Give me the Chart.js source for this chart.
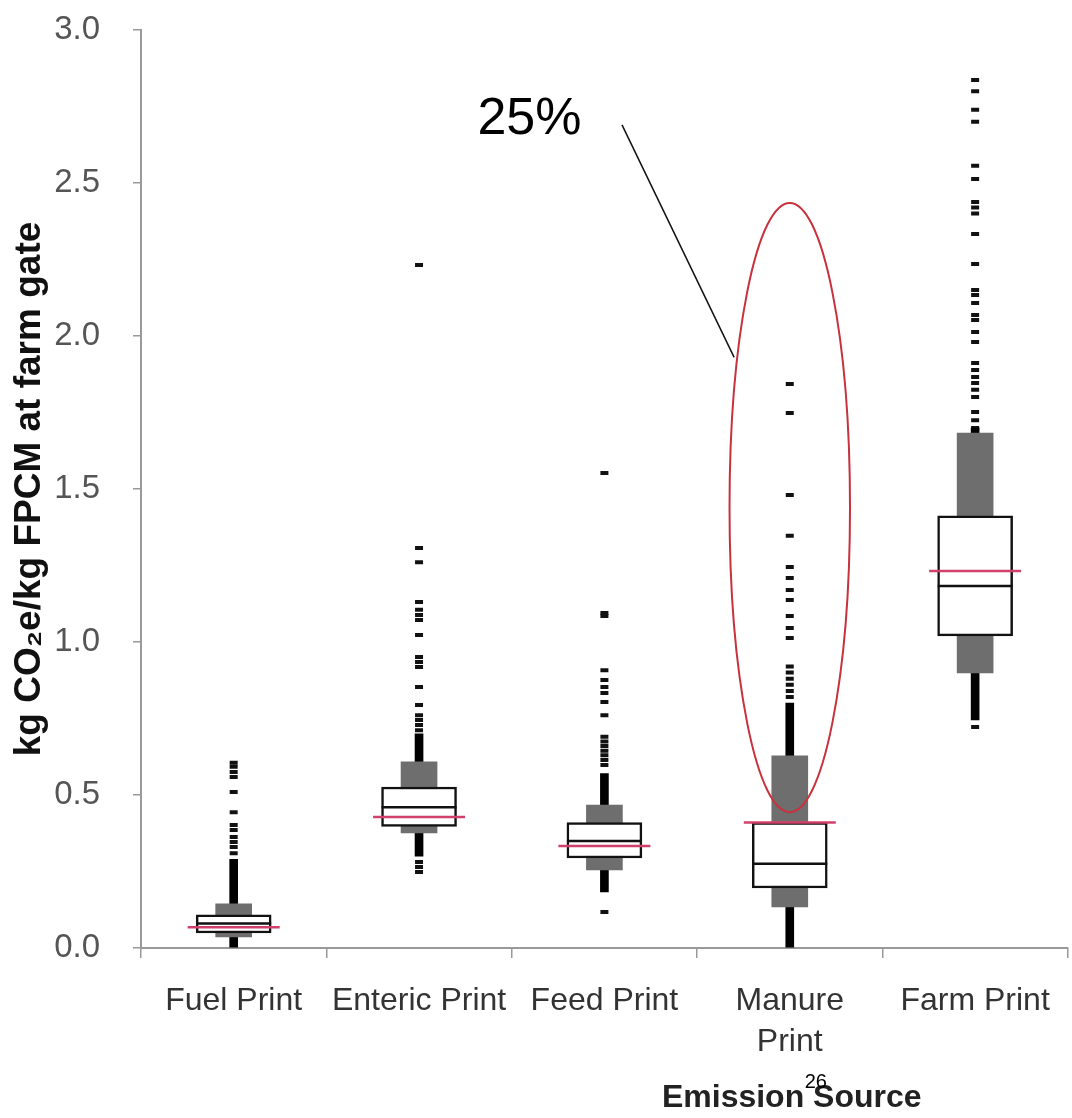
<!DOCTYPE html>
<html>
<head>
<meta charset="utf-8">
<script src="https://cdn.jsdelivr.net/npm/chart.js@4.4.0/dist/chart.umd.min.js"></script>
<style>
  body { margin: 0; background: #fff; }
  #wrap { width: 1072px; height: 1118px; }
</style>
</head>
<body>
<div id="wrap"><canvas id="boxChart" width="1072" height="1118"></canvas></div>
<script>
const FONT = 'Arial, "Liberation Sans", sans-serif';

const categories = ['Fuel Print', 'Enteric Print', 'Feed Print', ['Manure', 'Print'], 'Farm Print'];
const yTicks = [0, 0.5, 1.0, 1.5, 2.0, 2.5, 3.0];

// thin black line (whisker range)
const whiskerRange = [[0.0, 0.29], [0.30, 0.70], [0.183, 0.57], [0.0, 0.80], [0.745, 1.70]];
// grey block
const outerRange = [[0.036, 0.144], [0.376, 0.608], [0.255, 0.467], [0.134, 0.628], [0.899, 1.683]];
// white box (quartiles)
const boxRange = [[0.049, 0.108], [0.397, 0.526], [0.294, 0.410], [0.196, 0.410], [1.020, 1.412]];
const medians = [0.080, 0.460, 0.350, 0.275, 1.183];
const means = [0.068, 0.428, 0.333, 0.410, 1.232];

const outliers = [
  [0.605, 0.592, 0.575, 0.559, 0.51, 0.444, 0.402, 0.386, 0.363, 0.346, 0.330, 0.310],
  [2.232, 1.307, 1.261, 1.131, 1.105, 1.088, 1.072, 1.023, 0.951, 0.935, 0.918, 0.853,
   0.794, 0.761, 0.745, 0.729, 0.712, 0.281, 0.265, 0.248],
  [1.552, 1.095, 1.085, 0.908, 0.876, 0.853, 0.833, 0.804, 0.761, 0.69, 0.675, 0.66,
   0.645, 0.63, 0.614, 0.598, 0.118],
  [1.843, 1.748, 1.48, 1.347, 1.245, 1.209, 1.170, 1.137, 1.085, 1.046, 1.013,
   0.92, 0.90, 0.88, 0.86, 0.84, 0.82],
  [2.837, 2.80, 2.739, 2.70, 2.556, 2.513, 2.438, 2.42, 2.40, 2.333, 2.235, 2.15, 2.134,
   2.108, 2.069, 2.052, 2.013, 1.98, 1.912, 1.889, 1.866, 1.846, 1.824, 1.801, 1.752,
   1.725, 1.699, 0.722]
];

// category scale matches the label itself, so use the label as x
const outlierPoints = [];
outliers.forEach((list, i) => list.forEach(v => outlierPoints.push({x: categories[i], y: v})));

// ellipse, pointer and extra labels drawn over the chart
const annotations = {
  id: 'annotations',
  afterDatasetsDraw(chart) {
    const {ctx, scales: {x, y}} = chart;
    const cx = x.getPixelForValue(3);
    const band = x.getPixelForValue(1) - x.getPixelForValue(0);
    const top = y.getPixelForValue(2.435);
    const bot = y.getPixelForValue(0.444);
    ctx.save();
    ctx.strokeStyle = '#c8323c';
    ctx.lineWidth = 2;
    ctx.beginPath();
    ctx.ellipse(cx, (top + bot) / 2, band * 0.325, (bot - top) / 2, 0, 0, Math.PI * 2);
    ctx.stroke();

    ctx.strokeStyle = '#111';
    ctx.lineWidth = 1.5;
    ctx.beginPath();
    ctx.moveTo(cx - band * 0.905, y.getPixelForValue(2.69));
    ctx.lineTo(cx - band * 0.30, y.getPixelForValue(1.93));
    ctx.stroke();

    ctx.fillStyle = '#000';
    ctx.font = '52px ' + FONT;
    ctx.textAlign = 'left';
    ctx.textBaseline = 'alphabetic';
    ctx.fillText('25%', cx - band * 1.685, y.getPixelForValue(2.66));

    ctx.fillStyle = '#222';
    ctx.font = 'bold 32px ' + FONT;
    ctx.textAlign = 'center';
    ctx.textBaseline = 'middle';
    ctx.fillText('Emission Source', cx + 2, 1098);
    ctx.fillStyle = '#000';
    ctx.font = '20px ' + FONT;
    ctx.fillText('26', cx + 26, 1082);
    ctx.restore();
  }
};

new Chart(document.getElementById('boxChart'), {
  type: 'bar',
  data: {
    labels: categories,
    datasets: [
      {
        label: 'whisker',
        data: whiskerRange,
        backgroundColor: '#000',
        barThickness: 8,
        grouped: false,
        order: 5
      },
      {
        label: 'outer',
        data: outerRange,
        backgroundColor: '#6e6e6e',
        barThickness: 36,
        grouped: false,
        order: 4
      },
      {
        label: 'box',
        data: boxRange,
        backgroundColor: '#fff',
        borderColor: '#111',
        borderWidth: 2.5,
        borderSkipped: false,
        barThickness: 75,
        grouped: false,
        order: 3
      },
      {
        type: 'line',
        label: 'median',
        data: medians,
        showLine: false,
        pointStyle: 'line',
        pointRadius: 37.5,
        pointBorderWidth: 2.5,
        pointBorderColor: '#111',
        order: 2
      },
      {
        type: 'line',
        label: 'mean',
        data: means,
        showLine: false,
        pointStyle: 'line',
        pointRadius: 46,
        pointBorderWidth: 2.5,
        pointBorderColor: '#d0406a',
        order: 1
      },
      {
        type: 'line',
        label: 'outliers',
        data: outlierPoints,
        showLine: false,
        pointStyle: 'line',
        pointRadius: 4,
        pointBorderWidth: 4,
        pointBorderColor: '#111',
        order: 6
      }
    ]
  },
  options: {
    responsive: false,
    animation: false,
    events: [],
    layout: { autoPadding: false, padding: { top: 30, right: 2, left: 0, bottom: 0 } },
    plugins: { legend: { display: false }, tooltip: { enabled: false } },
    scales: {
      x: {
        offset: true,
        afterFit: s => { s.height = 170; },
        border: { color: '#999', width: 2 },
        grid: { drawOnChartArea: false, offset: true, tickLength: 10, color: '#999', lineWidth: 1.5 },
        ticks: { color: '#333', padding: 22, maxRotation: 0, autoSkip: false,
                 font: { family: FONT, size: 32, lineHeight: 1.3 } }
      },
      y: {
        min: 0,
        max: 3,
        // label gap is wide, keep it from pushing the plot down
        afterFit: s => { s.width = 141; s.paddingTop = 0; s.paddingBottom = 0; },
        afterBuildTicks: s => { s.ticks = yTicks.map(v => ({ value: v })); },
        border: { color: '#999', width: 2 },
        grid: { drawOnChartArea: false, tickLength: 8, color: '#999', lineWidth: 1.5 },
        ticks: { color: '#555', padding: 33, font: { family: FONT, size: 33 },
                 callback: v => v.toFixed(1) },
        title: {
          display: true,
          text: 'kg CO₂e/kg FPCM at farm gate',
          color: '#111',
          padding: { top: 8, bottom: 0 },
          font: { family: FONT, size: 37, weight: 'bold' }
        }
      }
    }
  },
  plugins: [annotations]
});
</script>
</body>
</html>
